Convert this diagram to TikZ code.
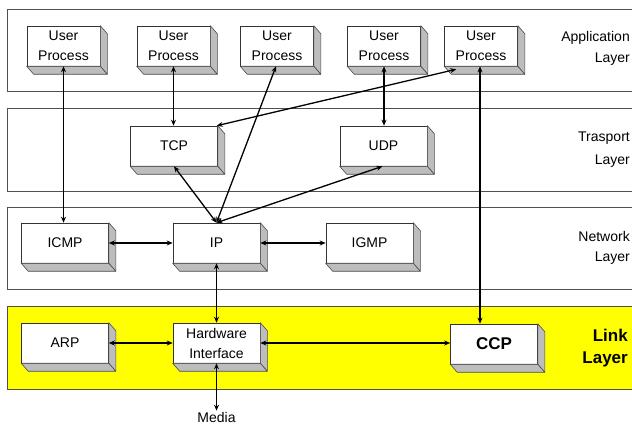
\documentclass[tikz,border=0pt]{standalone}
\usepackage{fontspec}
\setmainfont{Liberation Sans}
\usetikzlibrary{arrows.meta,calc}
\definecolor{sidegrey}{HTML}{BDBDBD}
\definecolor{bandline}{HTML}{505050}
\definecolor{linkyellow}{HTML}{FFFF00}
\begin{document}
\begin{tikzpicture}[x=1pt,y=-1pt,
  band/.style={draw=bandline, line width=0.8pt, fill=white},
  proc/.style={draw=black!80, line width=0.6pt, fill=white, minimum width=73pt, minimum height=40pt, inner sep=0pt, align=center, font=\fontsize{14}{20}\selectfont},
  wide/.style={proc, minimum width=87pt},
  sideface/.style={fill=sidegrey, draw=black!70, line width=0.6pt, line join=round},
  conn/.style={arrows={Stealth[length=6pt,width=5pt]-Stealth[length=6pt,width=5pt]}, line width=1.3pt},
  layerlbl/.style={anchor=east, align=right, font=\fontsize{14}{21}\selectfont, inner sep=0pt},
]
\useasboundingbox (0,0) rectangle (632,427);
% layer bands
\draw[band] (7,9) rectangle (645,91);
\draw[band] (7,108) rectangle (645,191);
\draw[band] (7,207) rectangle (645,289);
\draw[band, fill=linkyellow] (7,306) rectangle (645,389);
% layer labels
\node[layerlbl] (lapp) at (630,48.5) {Application\\Layer};
\node[layerlbl, font=\fontsize{14}{23}\selectfont] (ltra) at (630,149.5) {Trasport\\Layer};
\node[layerlbl, font=\fontsize{14}{20}\selectfont] (lnet) at (630,247.5) {Network\\Layer};
\node[layerlbl, font=\bfseries\fontsize{17}{22}\selectfont] (llnk) at (628,348) {Link\\Layer};
% boxes
\node[proc] (up1) at (63.5,46) {User\\Process};
\node[proc] (up2) at (173.5,46) {User\\Process};
\node[proc] (up3) at (277,46) {User\\Process};
\node[proc] (up4) at (384,46) {User\\Process};
\node[proc] (up5) at (481,46) {User\\Process};
\node[wide] (tcp) at (174,146) {TCP};
\node[wide] (udp) at (383.5,146) {UDP};
\node[wide] (icmp) at (65,243) {ICMP};
\node[wide] (ip) at (216.5,243) {IP};
\node[wide] (igmp) at (369.5,243) {IGMP};
\node[wide] (arp) at (65,343) {ARP};
\node[wide] (hw) at (216.5,343) {Hardware\\Interface};
\node[wide, font=\bfseries\fontsize{17}{20}\selectfont] (ccp) at (494,344) {CCP};
\node[font=\fontsize{14}{16}\selectfont, inner sep=1pt] (media) at (216.5,417) {Media};
% 3D sides
\foreach \n in {up1,up2,up3,up4,up5,tcp,udp,icmp,ip,igmp,arp,hw,ccp}{
  \filldraw[sideface] (\n.north east) -- ([shift={(7,8)}]\n.north east) -- ([shift={(7,8)}]\n.south east) -- (\n.south east) -- cycle;
  \filldraw[sideface] (\n.south west) -- (\n.south east) -- ([shift={(7,8)}]\n.south east) -- ([shift={(7,8)}]\n.south west) -- cycle;
}
% connectors
\draw[conn] (up1.south) -- (up1.south |- icmp.north);
\draw[conn] (up2.south) -- (up2.south |- tcp.north);
\draw[conn] (up4.south) -- (up4.south |- udp.north);
\draw[conn] ([xshift=-1]up3.south) -- (ip.north);
\draw[conn] ([shift={(12,3)}]up5.south west) -- ([xshift=-1]tcp.north east);
\draw[conn] ([xshift=-1]up5.south) -- ([xshift=-1]up5.south |- ccp.north);
\draw[conn] (tcp.south) -- (ip.north);
\draw[conn] ([xshift=-1]udp.south) -- (ip.north);
\draw[conn] (icmp.east) -- (ip.west);
\draw[conn] (ip.east) -- (igmp.west);
\draw[conn] (ip.south) -- (hw.north);
\draw[conn] (arp.east) -- (hw.west);
\draw[conn] (hw.east) -- (ccp.west |- hw.east);
\draw[conn] (hw.south) -- (media.north);
\end{tikzpicture}
\end{document}
